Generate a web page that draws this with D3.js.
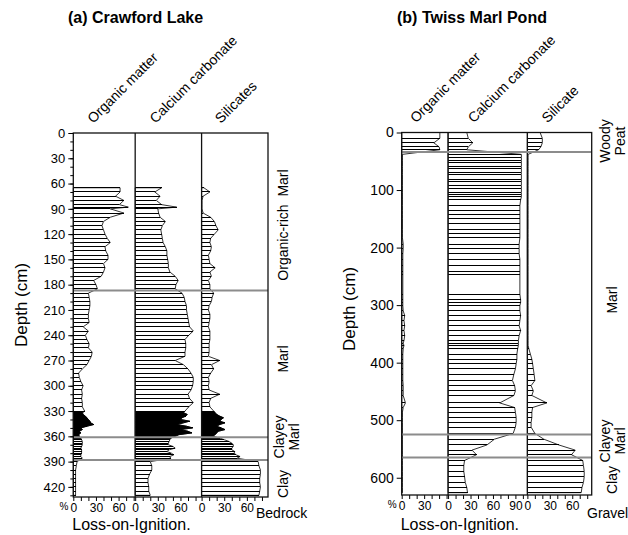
<!DOCTYPE html>
<meta charset="utf-8" />

<!-- Load d3.js -->
<script src="https://d3js.org/d3.v7.min.js"></script>

<style>
  body { margin: 0; background: #fff; }
  text { font-family: "Liberation Sans", Arial, sans-serif; fill: #000; }
</style>

<div id="chart"></div>

<script>
  // ---- data: (a) Crawford Lake, depth in cm, values in % ----
  const depthA = [65, 70, 75, 80, 85, 88, 90, 95, 100, 105, 110, 115, 120, 125, 130, 135, 140, 145, 150, 155,
    160, 165, 170, 175, 180, 185, 190, 195, 200, 205, 210, 215, 220, 225, 230, 235, 240, 245, 250, 255,
    260, 265, 270, 275, 280, 285, 290, 295, 300, 305, 310, 315, 320, 325,
    330, 332, 334, 336, 338, 340, 342, 344, 346, 348, 350, 352, 354, 356, 358, 360,
    362, 364, 366, 368, 370, 372, 374, 376, 378, 380, 382, 384, 386,
    390, 395, 400, 405, 410, 415, 420, 425, 430];
  const organicA = [62, 62, 56, 67, 61, 73, 49, 67, 49, 40, 38, 40, 42, 45, 49, 42, 43, 46, 46, 40,
    42, 40, 37, 27, 30, 32, 20, 21, 22, 22, 21, 20, 20, 21, 13, 20, 16, 18, 21, 20,
    25, 24, 21, 18, 12, 7, 8, 10, 13, 11, 12, 11, 12, 12,
    15, 12, 13, 16, 18, 20, 22, 23, 27, 18, 10, 12, 8, 10, 7, 8,
    10, 11, 12, 12, 12, 11, 10, 11, 11, 11, 10, 10, 12,
    5, 4, 3, 3, 3, 3, 3, 3, 3];
  const carbonateA = [35, 26, 33, 28, 35, 55, 30, 31, 33, 40, 36, 34, 35, 36, 37, 40, 42, 42, 43, 44,
    44, 46, 53, 57, 54, 53, 62, 65, 66, 68, 68, 69, 70, 71, 72, 77, 71, 66, 67, 67,
    66, 66, 53, 64, 70, 74, 77, 77, 76, 74, 70, 72, 77, 71,
    66, 64, 69, 67, 62, 60, 72, 64, 55, 68, 76, 60, 70, 75, 58, 53,
    48, 46, 45, 44, 44, 50, 53, 45, 42, 48, 51, 46, 47,
    20, 22, 22, 19, 17, 17, 18, 18, 20];
  const silicateA = [3, 11, 2, 0.5, 0.5, 0.5, 0.5, 2, 12, 17, 19, 22, 17, 12, 11, 13, 12, 9, 10, 11,
    18, 11, 13, 9, 11, 11, 16, 14, 13, 10, 9, 11, 11, 10, 9, 11, 11, 11, 10, 10,
    10, 9, 24, 13, 16, 12, 9, 10, 9, 10, 24, 12, 10, 11,
    16, 18, 20, 24, 29, 26, 24, 31, 24, 20, 26, 31, 22, 20, 18, 14,
    24, 30, 36, 40, 42, 42, 40, 40, 44, 43, 46, 51, 47,
    75, 76, 78, 78, 77, 77, 78, 77, 76];

  // ---- data: (b) Twiss Marl Pond ----
  const depthB = [0, 10, 18, 25, 30, 38, 44, 49, 53, 59, 63, 69, 73, 81, 86,
    92, 98, 104, 107, 112, 117, 127, 136, 143, 150, 159, 169, 176, 183, 194, 202, 211, 220, 231, 241,
    246, 281, 291, 295, 301, 310, 318, 327, 336, 344, 353, 362, 366, 370, 376, 385, 394, 402, 411, 420,
    431, 440, 449, 457, 470, 478, 486, 495, 504, 512, 523, 533, 543, 552, 560, 570, 579, 589, 598, 608,
    617, 626];
  const organicB = [51, 51, 43, 50, 51, 1, 1, 1, 1, 1, 1, 1, 1, 1, 1,
    1, 1, 1, 1, 1, 1, 1, 1, 1, 1, 1, 1, 1, 1, 2, 2, 1.5, 1.5, 1.5, 1.5,
    1.5, 1.5, 1.5, 1.5, 1.5, 2, 4, 3, 4, 3, 4, 3, 2, 3, 2, 1.5, 1.5, 1.5, 1.5, 1.5,
    1.5, 2, 2, 2, 5, 2, 1, 1, 1, 1, 1, 1, 1, 1, 1, 1, 1, 1, 1, 1,
    1, 1];
  const carbonateB = [25, 27, 33, 27, 25, 98, 98, 98, 98, 98, 98, 98, 98, 98, 98,
    98, 98, 98, 98, 98, 97, 96, 96, 96, 96, 96, 96, 96, 96, 95, 95, 95, 96, 96, 96,
    96, 96, 97, 97, 96, 96, 97, 96, 95, 97, 95, 94, 94, 94, 93, 92, 92, 91, 90, 88,
    86, 89, 90, 88, 69, 89, 90, 91, 91, 90, 87, 62, 52, 32, 38, 22, 21, 21, 22, 23,
    25, 26];
  const silicateB = [17, 20, 20, 18, 15, 1, 1, 1, 1, 1, 1, 1, 1, 1, 1,
    1, 1, 1, 1, 1, 1, 1, 1, 1, 1, 1, 1, 1, 1, 1, 1, 1, 1, 1, 1,
    1, 1, 1, 1, 1, 1, 1, 1, 1, 1, 1, 1, 1, 1, 2, 4, 6, 7, 8, 9,
    10, 5, 8, 6, 26, 7, 6, 6, 5, 5, 10, 22, 42, 64, 59, 74, 75, 76, 76, 75,
    73, 72];

  // ---- labels and ticks ----
  const headersA = ["Organic matter", "Calcium carbonate", "Silicates"];
  const headersB = ["Organic matter", "Calcium carbonate", "Silicate"];
  const depthTicksA = [0, 30, 60, 90, 120, 150, 180, 210, 240, 270, 300, 330, 360, 390, 420];
  const depthTicksB = [0, 100, 200, 300, 400, 500, 600];
  const pctLabels = [0, 30, 60, 90];
  const boundariesA = [187, 361, 388];
  const boundariesB = [34, 525, 565];
  const solidA = [[330, 361]];

  const svg = d3.select("#chart").append("svg").attr("width", 628).attr("height", 535);

  function drawPanel(cfg) {
    const g = svg.append("g");
    const y = d3.scaleLinear().domain([0, cfg.depthMax]).range([cfg.top, cfg.bottom]);
    const pxPer = (cfg.right - cfg.left) / d3.sum(cfg.columns, c => c.max);

    let xs = cfg.left;
    cfg.columns.forEach((col, ci) => {
      const x = d3.scaleLinear().domain([0, col.max]).range([xs, xs + col.max * pxPer]);
      xs += col.max * pxPer;
      const pts = cfg.depths.map((d, i) => ({ depth: d, value: col.values[i] }));
      const area = d3.area().y(d => y(d.depth)).x0(x(0)).x1(d => x(d.value));

      g.append("path").attr("d", area(pts))
        .attr("fill", "#fff").attr("stroke", "#000").attr("stroke-width", 0.8);

      // solid (densely sampled) zones
      (cfg.solid || []).forEach((z, zi) => {
        const id = cfg.id + "clip" + ci + "_" + zi;
        g.append("clipPath").attr("id", id).append("rect")
          .attr("x", x(0)).attr("width", x(col.max) - x(0))
          .attr("y", y(z[0])).attr("height", y(z[1]) - y(z[0]));
        g.append("path").attr("d", area(pts)).attr("clip-path", "url(#" + id + ")")
          .attr("fill", "#000").attr("stroke", "#000").attr("stroke-width", 0.8);
      });

      // one horizontal bar per sample
      g.append("g").selectAll("line").data(pts).join("line")
        .attr("x1", x(0)).attr("x2", d => x(d.value))
        .attr("y1", d => y(d.depth)).attr("y2", d => y(d.depth))
        .attr("stroke", "#000").attr("stroke-width", 1)
        .attr("shape-rendering", "crispEdges");

      // bottom axis for the column
      const ax = d3.axisBottom(x)
        .tickValues(d3.range(0, col.max + 0.01, 10))
        .tickSize(4).tickSizeOuter(0).tickPadding(2)
        .tickFormat(v => (pctLabels.includes(v) && v <= col.max - 5 ? v : ""));
      const axg = g.append("g").attr("transform", "translate(0," + cfg.bottom + ")").call(ax);
      axg.select(".domain").remove();
      axg.selectAll("text").attr("font-size", 12).attr("font-family", "Liberation Sans, Arial, sans-serif");

      // rotated column header
      const cx = (x(0) + x(col.max)) / 2;
      g.append("text")
        .attr("transform", "translate(" + (cx + cfg.headShift[ci]) + "," + (cfg.top - 9) + ") rotate(-45)")
        .attr("font-size", 14).text(col.name);

      if (ci > 0) {
        g.append("line").attr("x1", x(0)).attr("x2", x(0)).attr("y1", cfg.top).attr("y2", cfg.bottom)
          .attr("stroke", "#111").attr("stroke-width", 1.3);
      }
    });

    // zone boundaries
    g.selectAll(".bnd").data(cfg.boundaries).join("line")
      .attr("x1", cfg.left).attr("x2", cfg.right)
      .attr("y1", d => y(d)).attr("y2", d => y(d))
      .attr("stroke", "#8c8c8c").attr("stroke-width", 2);

    // frame
    g.append("rect").attr("x", cfg.left).attr("y", cfg.top)
      .attr("width", cfg.right - cfg.left).attr("height", cfg.bottom - cfg.top)
      .attr("fill", "none").attr("stroke", "#111").attr("stroke-width", 1.3);

    // depth axis
    const ay = g.append("g").attr("transform", "translate(" + cfg.left + ",0)")
      .call(d3.axisLeft(y).tickValues(cfg.depthTicks).tickSize(5).tickSizeOuter(0).tickPadding(3));
    ay.select(".domain").remove();
    ay.selectAll("text").attr("font-size", cfg.tickFont).attr("font-family", "Liberation Sans, Arial, sans-serif");
    if (cfg.minor) {
      const am = g.append("g").attr("transform", "translate(" + cfg.left + ",0)")
        .call(d3.axisLeft(y).tickValues(d3.range(0, cfg.depthMax, cfg.minor)).tickSize(3).tickSizeOuter(0).tickFormat(""));
      am.select(".domain").remove();
    }

    g.append("text")
      .attr("transform", "translate(" + cfg.depthLabelX + "," + cfg.depthLabelY + ") rotate(-90)")
      .attr("text-anchor", "middle").attr("font-size", 17).text("Depth (cm)");

    g.append("text").attr("x", cfg.left - 5).attr("y", cfg.bottom + 13)
      .attr("text-anchor", "end").attr("font-size", 10).text("%");

    g.append("text").attr("x", cfg.titleX).attr("y", 23)
      .attr("font-size", 16).attr("font-weight", "bold").text(cfg.title);

    g.append("text").attr("x", cfg.left - 1).attr("y", 530)
      .attr("font-size", 16).text("Loss-on-Ignition.");

    g.append("text").attr("x", cfg.baseX).attr("y", 518)
      .attr("font-size", 14).text(cfg.base);

    // zone names on the right
    cfg.zones.forEach(z => {
      z.lines.forEach((t, li) => {
        g.append("text")
          .attr("transform", "translate(" + z.xs[li] + "," + z.y + ") rotate(-90)")
          .attr("text-anchor", "middle").attr("font-size", 14)
          .style("white-space", "pre").text(t);
      });
    });
  }

  drawPanel({
    id: "a", title: "(a) Crawford Lake", titleX: 68,
    left: 73.3, right: 268, top: 133, bottom: 497, depthMax: 432,
    depths: depthA,
    columns: [
      { name: headersA[0], values: organicA, max: 82 },
      { name: headersA[1], values: carbonateA, max: 88 },
      { name: headersA[2], values: silicateA, max: 88 }
    ],
    headShift: [-11, -13, -14],
    solid: solidA, boundaries: boundariesA,
    depthTicks: depthTicksA, minor: 10, tickFont: 13,
    depthLabelX: 27, depthLabelY: 305,
    base: "Bedrock", baseX: 256,
    zones: [
      { lines: ["Organic-rich  Marl"], xs: [288], y: 225 },
      { lines: ["Marl"], xs: [288], y: 359 },
      { lines: ["Clayey", "Marl"], xs: [284, 299], y: 437 },
      { lines: ["Clay"], xs: [288], y: 484 }
    ]
  });

  drawPanel({
    id: "b", title: "(b) Twiss Marl Pond", titleX: 397,
    left: 401.7, right: 591.7, top: 132.5, bottom: 495, depthMax: 630,
    depths: depthB,
    columns: [
      { name: headersB[0], values: organicB, max: 62 },
      { name: headersB[1], values: carbonateB, max: 106 },
      { name: headersB[2], values: silicateB, max: 86 }
    ],
    headShift: [-9, -14, -12],
    solid: [], boundaries: boundariesB,
    depthTicks: depthTicksB, minor: 0, tickFont: 14,
    depthLabelX: 355, depthLabelY: 309,
    base: "Gravel", baseX: 587,
    zones: [
      { lines: ["Woody", "Peat"], xs: [610, 625], y: 141 },
      { lines: ["Marl"], xs: [617], y: 300 },
      { lines: ["Clayey", "Marl"], xs: [610, 625], y: 441 },
      { lines: ["Clay"], xs: [617], y: 480 }
    ]
  });
</script>
